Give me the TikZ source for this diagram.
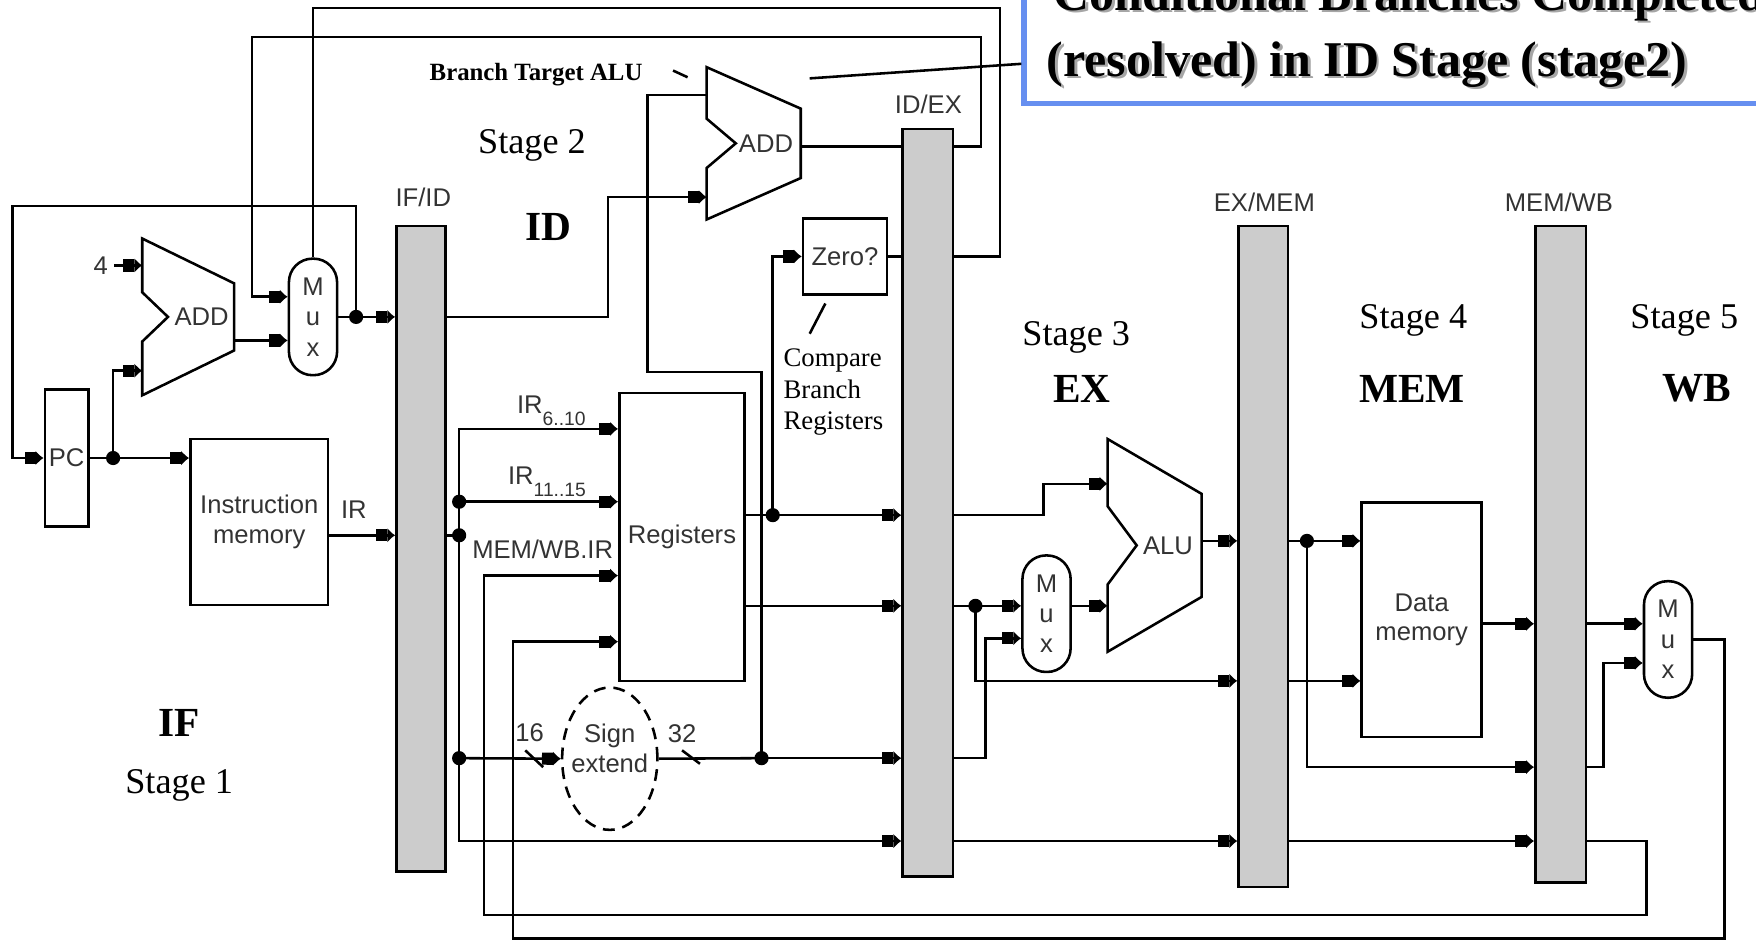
\documentclass[tikz,border=0pt]{standalone}
\usepackage{fontspec}
\setmainfont{Liberation Serif}
\setsansfont{Liberation Sans}
\usetikzlibrary{arrows.meta,shapes.geometric}

\definecolor{boxblue}{RGB}{102,143,240}

\tikzset{
	wire/.style={line width=0.65pt},
	arr/.style={wire,-{Square[length=2.8pt,width=3.1pt,sep=0pt]Latex[length=2pt,width=3.8pt]}},
	blk/.style={draw,line width=0.65pt,inner sep=0pt,align=center,
		font=\sffamily\fontsize{6.5}{7.6}\selectfont,text=black!80},
	mux/.style={blk,rounded corners=2.1mm,minimum width=0.43cm,minimum height=1.04cm,
		font=\sffamily\fontsize{6.5}{7.7}\selectfont},
	pipereg/.style={draw,line width=0.65pt,fill=gray!40,minimum width=0.44cm,inner sep=0pt},
	dot/.style={circle,fill,inner sep=0pt,minimum size=3.6pt},
	sf/.style={font=\sffamily\fontsize{6.5}{7.6}\selectfont,text=black!80,inner sep=0pt},
	stage/.style={font=\fontsize{9.2}{11}\selectfont,inner sep=0pt},
	stagebf/.style={font=\bfseries\fontsize{10.5}{12}\selectfont,inner sep=0pt},
	note/.style={font=\fontsize{6.8}{8}\selectfont,inner sep=0pt,align=left},
	ttl/.style={font=\bfseries\fontsize{12.7}{15}\selectfont,inner sep=0pt},
}

\begin{document}
\begin{tikzpicture}[x=0.01cm,y=-0.01cm]
	\path[use as bounding box,clip] (0,0) rectangle (1568,840);
	
	% Title box
	\node[draw=boxblue,line width=1.4pt,minimum width=8cm,minimum height=2cm,
		anchor=south west,inner sep=0pt] (titlebox) at (912,95) {};
	\node[ttl,text=black!35,anchor=base west] (title1s) at (942.5,11.5) {Conditional Branches Completed};
	\node[ttl,anchor=base west] (title1) at (940,9) {Conditional Branches Completed};
	\node[ttl,text=black!35,anchor=base west] (title2s) at (936.5,70.5) {(resolved) in ID Stage (stage2)};
	\node[ttl,anchor=base west] (title2) at (934,68) {(resolved) in ID Stage (stage2)};
	\coordinate (tgt) at (723,70);
	\draw[wire] (tgt) -- (titlebox.west |- 0,57);
	
	% Stage labels
	\node[stagebf] (iflbl) at (160,646) {IF};
	\node[stage] (st1) at (160,701) {Stage 1};
	\node[stage] (st2) at (475,130) {Stage 2};
	\node[stagebf] (idlbl) at (490,203) {ID};
	\node[stage] (st3) at (961,301) {Stage 3};
	\node[stagebf] (exlbl) at (966,347) {EX};
	\node[stage] (st4) at (1262,286) {Stage 4};
	\node[stagebf] (memlbl) at (1261,347) {MEM};
	\node[stage] (st5) at (1504,286) {Stage 5};
	\node[stagebf] (wblbl) at (1515,347) {WB};
	
	% Notes
	\node[font=\bfseries\fontsize{6.3}{7}\selectfont,inner sep=0pt,anchor=base west] (btalbl) at (383,72) {Branch Target ALU};
	\draw[wire] (601,63) -- (614,69); % tick to adder
	\node[note,anchor=north west] (cmplbl) at (699,311) {Compare\\Branch\\Registers};
	\draw[wire] (737,271) -- (723,298); % tick to Zero?
	
	% Pipeline registers
	\node[pipereg,minimum height=5.76cm] (ifid) at (376,490) {};
	\node[pipereg,minimum width=0.45cm,minimum height=6.67cm] (idex) at (828.5,449) {};
	\node[pipereg,minimum height=5.9cm] (exmem) at (1128,497) {};
	\node[pipereg,minimum width=0.45cm,minimum height=5.86cm] (memwb) at (1393.5,495) {};
	\node[sf] (ifidlbl) at (378,176) {IF/ID};
	\node[sf] (idexlbl) at (829,93) {ID/EX};
	\node[sf] (exmemlbl) at (1129,181) {EX/MEM};
	\node[sf] (memwblbl) at (1392,181) {MEM/WB};
	
	% Blocks
	\node[blk,minimum width=0.39cm,minimum height=1.22cm] (pc) at (59.5,409) {PC};
	\node[blk,minimum width=1.23cm,minimum height=1.48cm] (imem) at (231.5,466) {Instruction\\memory};
	\node[blk,minimum width=1.12cm,minimum height=2.57cm] (regs) at (609,479.5) {Registers};
	\node[blk,minimum width=0.75cm,minimum height=0.68cm] (zero) at (754.5,229) {Zero?};
	\node[blk,minimum width=1.07cm,minimum height=2.09cm] (dmem) at (1269.5,553.5) {Data\\memory};
	\node[draw,ellipse,densely dashed,line width=0.65pt,minimum width=0.85cm,minimum height=1.27cm] (sext) at (544.5,677.5) {};
	\node[sf,align=center] (sextlbl) at (544.5,668) {Sign\\extend};
	\node[mux] (mux1) at (279.5,283) {M\\u\\x};
	\node[mux] (mux2) at (934.5,548) {M\\u\\x};
	\node[mux] (mux3) at (1489.5,571) {M\\u\\x};
	
	% Adders and ALU
	\draw[wire] (127,213) -- (209,253) -- (209,313) -- (127,353) -- (127,305) -- (150,283) -- (127,261) -- cycle;
	\node[sf] (add1) at (180,283) {ADD};
	\draw[wire] (631,60) -- (715,97) -- (715,159) -- (631,196) -- (631,150) -- (657,128) -- (631,106) -- cycle;
	\node[sf] (add2) at (684,128) {ADD};
	\draw[wire] (989,392) -- (1073,441) -- (1073,533) -- (989,582) -- (989,522) -- (1015,487) -- (989,452) -- cycle;
	\node[sf] (alu) at (1043,487) {ALU};
	\coordinate (add1in1) at (127,237);
	\coordinate (add1in2) at (127,331);
	\coordinate (add1out) at (209,304);
	\coordinate (add2in1) at (631,85);
	\coordinate (add2in2) at (631,176);
	\coordinate (add2out) at (715,131);
	\coordinate (aluin1) at (989,432);
	\coordinate (aluin2) at (989,541);
	\coordinate (aluout) at (1073,483);
	
	% Junctions
	\node[dot] (jpc) at (101,409) {};
	\node[dot] (jmux1) at (318,283) {};
	\node[dot] (jir) at (410,478) {};
	\node[dot] (jir2) at (410,448) {};
	\node[dot] (jimm) at (410,677) {};
	\node[dot] (jrs) at (690,460) {};
	\node[dot] (joff) at (680,677) {};
	\node[dot] (jrt) at (871,541) {};
	\node[dot] (jaddr) at (1167,483) {};
	
	% IF stage
	\node[sf] (four) at (90,237) {4};
	\draw[arr] (four.east) ++(5,0) -- (add1in1);
	\draw[wire] (pc.east) -- (jpc.center);
	\draw[arr] (jpc.center) -- (imem.west |- jpc);
	\draw[arr] (jpc.center) |- (add1in2);
	\draw[arr] (add1out) -- (mux1.west |- add1out);
	\draw[wire] (mux1.east) -- (jmux1.center);
	\draw[arr] (jmux1.center) -- (ifid.west |- jmux1);
	\draw[arr] (jmux1.center) -- (318,184) -- (11,184) |- (pc.west);
	\draw[arr] (imem.east |- jir) -- (ifid.west |- jir);
	\node[sf] (irlbl) at (316,455) {IR};
	
	% ID stage
	\draw[arr] (ifid.east |- jmux1) -- (543,283) |- (add2in2);
	\draw[wire] (ifid.east |- jir) -- (jir.center);
	\draw[arr] (jir.center) -- (410,383) -- (regs.west |- 0,383);
	\draw[arr] (jir.center) -- (410,751) -- (idex.west |- 0,751);
	\draw[arr] (jir2.center) -- (regs.west |- jir2);
	\draw[arr] (jimm.center) -- (sext.west);
	\node[sf,anchor=base west] (ir610) at (461,369) {IR\raisebox{-3.1pt}{\fontsize{4.9}{5}\selectfont 6..10}};
	\node[sf,anchor=base west] (ir1115) at (453,433) {IR\raisebox{-3pt}{\fontsize{4.9}{5}\selectfont 11..15}};
	\node[sf,anchor=base west] (wbirlbl) at (421,499) {MEM/WB.IR};
	\draw[arr] (memwb.east |- 0,751) -- (1470,751) -- (1470,817) -- (432,817) |- (regs.west |- 0,514);
	\draw[arr] (mux3.east) -| (1540,838) -| (458,573) -- (regs.west |- 0,573);
	\draw[wire] (regs.east |- jrs) -- (jrs.center);
	\draw[arr] (jrs.center) -- (idex.west |- jrs);
	\draw[arr] (jrs.center) |- (zero.west);
	\draw[arr] (regs.east |- 0,541) -- (idex.west |- 0,541);
	\draw[wire] (sext.east) -- (joff.center);
	\draw[arr] (joff.center) -- (idex.west |- joff);
	\draw[wire] (joff.center) -- (680,332) -- (578,332) |- (add2in1);
	\node[sf] (w16) at (473,654) {16};
	\draw[wire] (469,670) -- (485,685);
	\node[sf] (w32) at (609,655) {32};
	\draw[wire] (609,670) -- (625,682);
	
	% Branch target and condition back to IF
	\draw[wire] (add2out) -- (idex.west |- add2out);
	\draw[arr] (idex.east |- add2out) -- (876,131) -- (876,33) -- (225,33) |- (mux1.west |- 0,265);
	\draw[wire] (zero.east) -- (idex.west |- zero.east);
	\draw[wire] (idex.east |- zero.east) -- (893,229) -- (893,7) -| (mux1.north);
	
	% EX stage
	\draw[arr] (idex.east |- jrs) -- (932,460) |- (aluin1);
	\draw[wire] (idex.east |- jrt) -- (jrt.center);
	\draw[arr] (jrt.center) -- (mux2.west |- jrt);
	\draw[arr] (jrt.center) |- (exmem.west |- 0,608);
	\draw[arr] (idex.east |- joff) -- (880,677) |- (mux2.west |- 0,570);
	\draw[arr] (mux2.east |- jrt) -- (aluin2);
	\draw[arr] (idex.east |- 0,751) -- (exmem.west |- 0,751);
	\draw[arr] (aluout) -- (exmem.west |- aluout);
	
	% MEM stage
	\draw[wire] (exmem.east |- jaddr) -- (jaddr.center);
	\draw[arr] (jaddr.center) -- (dmem.west |- jaddr);
	\draw[arr] (jaddr.center) |- (memwb.west |- 0,685);
	\draw[arr] (exmem.east |- 0,608) -- (dmem.west |- 0,608);
	\draw[arr] (dmem.east |- 0,557) -- (memwb.west |- 0,557);
	\draw[arr] (exmem.east |- 0,751) -- (memwb.west |- 0,751);
	
	% WB stage
	\draw[arr] (memwb.east |- 0,557) -- (mux3.west |- 0,557);
	\draw[arr] (memwb.east |- 0,685) -- (1432,685) |- (mux3.west |- 0,592);
\end{tikzpicture}
\end{document}
